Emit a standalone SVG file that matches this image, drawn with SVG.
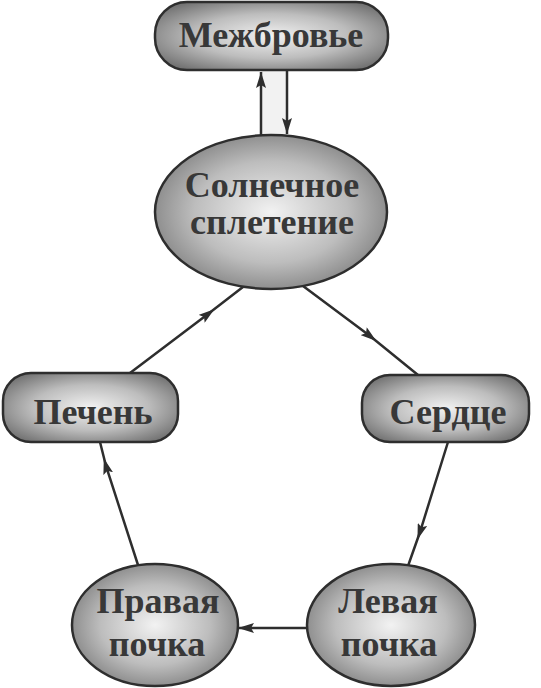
<svg xmlns="http://www.w3.org/2000/svg" width="541" height="688" viewBox="0 0 541 688">
<defs>
<radialGradient id="g" cx="0.5" cy="0.5" r="0.6">
<stop offset="0" stop-color="#f2f2f2"/>
<stop offset="0.55" stop-color="#bdbdbd"/>
<stop offset="1" stop-color="#747474"/>
</radialGradient>
<marker id="ah" viewBox="0 0 16 10" refX="16" refY="5" markerWidth="16" markerHeight="10" markerUnits="userSpaceOnUse" orient="auto">
<path d="M0,0 L16,5 L0,10 L3,5 Z" fill="#2e2e2e"/>
</marker>
<marker id="am" viewBox="0 0 16 10" refX="8" refY="5" markerWidth="16" markerHeight="10" markerUnits="userSpaceOnUse" orient="auto">
<path d="M0,0 L16,5 L0,10 L3,5 Z" fill="#2e2e2e"/>
</marker>
</defs>
<style>
.n{fill:url(#g);stroke:#2e2e2e;stroke-width:2.5}
.t{font-family:"Liberation Serif","DejaVu Serif",serif;font-weight:bold;font-size:36px;fill:#383838;text-anchor:middle}
.c{stroke:#2e2e2e;stroke-width:2.5;fill:none}
</style>
<rect width="541" height="688" fill="#ffffff"/>
<rect x="261" y="70" width="26" height="66" fill="#f2f2f2"/>
<g id="connectors">
<path class="c" d="M261,136 L261,72" marker-end="url(#ah)"/>
<path class="c" d="M287,70 L287,134" marker-end="url(#ah)"/>
<path class="c" d="M295,280 L370,336 L418,375" marker-mid="url(#am)"/>
<path class="c" d="M448,442 L420,532 L408,566" marker-mid="url(#am)"/>
<path class="c" d="M308,628 L238,628" marker-end="url(#ah)"/>
<path class="c" d="M138,565 L106,466 L100,442" marker-mid="url(#am)"/>
<path class="c" d="M130,373 L208,314 L252,280" marker-mid="url(#am)"/>
</g>
<g id="mezhbrovye">
<rect class="n" x="155" y="2" width="233" height="68" rx="32" ry="32"/>
<text class="t" x="271" y="47">Межбровье</text>
</g>
<g id="solnechnoe">
<ellipse class="n" cx="271" cy="212" rx="116" ry="77"/>
<text class="t" x="272" y="197">Солнечное</text>
<text class="t" x="272" y="234">сплетение</text>
</g>
<g id="pechen">
<rect class="n" x="3" y="373" width="175" height="69" rx="28" ry="28"/>
<text class="t" x="93" y="424">Печень</text>
</g>
<g id="serdce">
<rect class="n" x="362" y="375" width="167" height="67" rx="28" ry="28"/>
<text class="t" x="448" y="424">Сердце</text>
</g>
<g id="pravaya">
<ellipse class="n" cx="155" cy="625" rx="83" ry="61"/>
<text class="t" x="158" y="613">Правая</text>
<text class="t" x="157" y="656">почка</text>
</g>
<g id="levaya">
<ellipse class="n" cx="391" cy="625" rx="84" ry="61"/>
<text class="t" x="388" y="613">Левая</text>
<text class="t" x="389" y="656">почка</text>
</g>
</svg>
